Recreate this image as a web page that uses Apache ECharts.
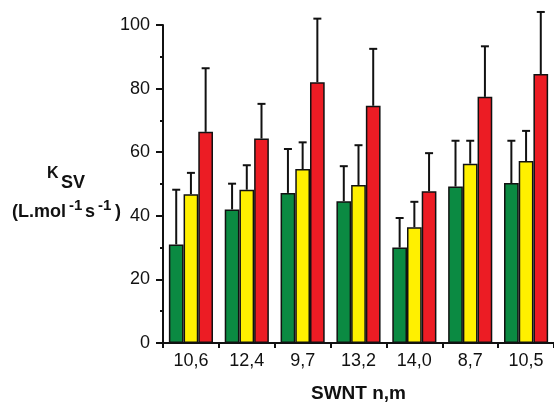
<!DOCTYPE html>
<html><head><meta charset="utf-8">
<script src="https://cdn.jsdelivr.net/npm/echarts@6/dist/echarts.min.js"></script>
<style>html,body{margin:0;padding:0;background:#fff}#c{width:554px;height:408px}</style>
</head><body><div id="c"></div>
<script>
const categories = ['10,6','12,4','9,7','13,2','14,0','8,7','10,5'];
const green = [31.0, 42.0, 47.2, 44.6, 30.0, 49.2, 50.3];
const greenErr = [17.2, 8.1, 13.8, 11.0, 9.3, 14.4, 13.3];
const yellow = [46.8, 48.2, 54.7, 49.7, 36.4, 56.4, 57.2];
const yellowErr = [6.7, 7.7, 8.4, 12.5, 8.0, 7.2, 9.5];
const red = [66.4, 64.3, 82.0, 74.6, 47.7, 77.4, 84.6];
const redErr = [20.0, 10.9, 20.0, 17.9, 12.0, 15.9, 19.5];
const yTicks = [0, 20, 40, 60, 80, 100];

const FONT = 'Liberation Sans, Arial, sans-serif';
const GAP = 0.21;
const groups = [
  {name:'g', vals: green, errs: greenErr, color:'#0b8a42', idx: -1},
  {name:'y', vals: yellow, errs: yellowErr, color:'#fff000', idx: 0},
  {name:'r', vals: red, errs: redErr, color:'#ec1c24', idx: 1}
];

const chart = echarts.init(document.getElementById('c'), null, {renderer:'canvas'});
const series = [];
groups.forEach(g => {
  series.push({
    type:'bar', data: g.vals, barGap:'0%', barCategoryGap: (GAP*100)+'%',
    itemStyle:{color:g.color, borderColor:'#111', borderWidth:1.5},
    animation:false
  });
});
groups.forEach(g => {
  series.push({
    type:'custom', clip:false, z:5, animation:false,
    data: g.vals.map((v,i)=>[i, v, v + g.errs[i]]),
    renderItem: function(params, api){
      const i = api.value(0);
      const base = api.coord([i, api.value(1)]);
      const top = api.coord([i, api.value(2)]);
      const band = api.size([1,0])[0];
      const bw = band*(1-GAP)/3;
      const x = base[0] + g.idx*bw;
      const cap = 4;
      const st = {stroke:'#111', lineWidth:2};
      return {type:'group', children:[
        {type:'line', shape:{x1:x, y1:base[1], x2:x, y2:top[1]}, style:st},
        {type:'line', shape:{x1:x-cap, y1:top[1], x2:x+cap, y2:top[1]}, style:st}
      ]};
    }
  });
});

function t(text, left, top, size){
  return {type:'text', left:left, top:top, style:{text:text, fontSize:size, fontWeight:'bold', fontFamily:FONT, fill:'#111'}};
}

chart.setOption({
  animation:false,
  grid:{left:163, right:-2, top:25, bottom:58, containLabel:false},
  xAxis:{
    type:'category', data: categories,
    axisLine:{lineStyle:{color:'#111', width:2}},
    axisTick:{show:true, length:5, lineStyle:{color:'#111', width:2}},
    axisLabel:{color:'#111', fontSize:18, fontFamily:FONT, margin:9},
    name:'SWNT n,m', nameLocation:'middle', nameGap:41,
    nameTextStyle:{color:'#111', fontSize:19, fontWeight:'bold', fontFamily:FONT},
    splitLine:{show:false}
  },
  yAxis:{
    type:'value', min: yTicks[0], max: yTicks[yTicks.length-1], interval: 20,
    axisLine:{show:true, lineStyle:{color:'#111', width:2}},
    axisTick:{show:true, length:7, lineStyle:{color:'#111', width:2}},
    minorTick:{show:true, splitNumber:2, length:3, lineStyle:{color:'#111', width:2}},
    axisLabel:{color:'#111', fontSize:18, fontFamily:FONT, margin:13},
    splitLine:{show:false}
  },
  graphic:[
    t('K', 47, 166, 16),
    t('SV', 61, 174, 18),
    t('(L.mol', 12, 203, 18),
    t('-1', 69, 198, 15),
    t('s', 85, 203, 18),
    t('-1', 98, 198, 15),
    t(')', 115, 203, 18)
  ],
  series: series
});
</script></body></html>
